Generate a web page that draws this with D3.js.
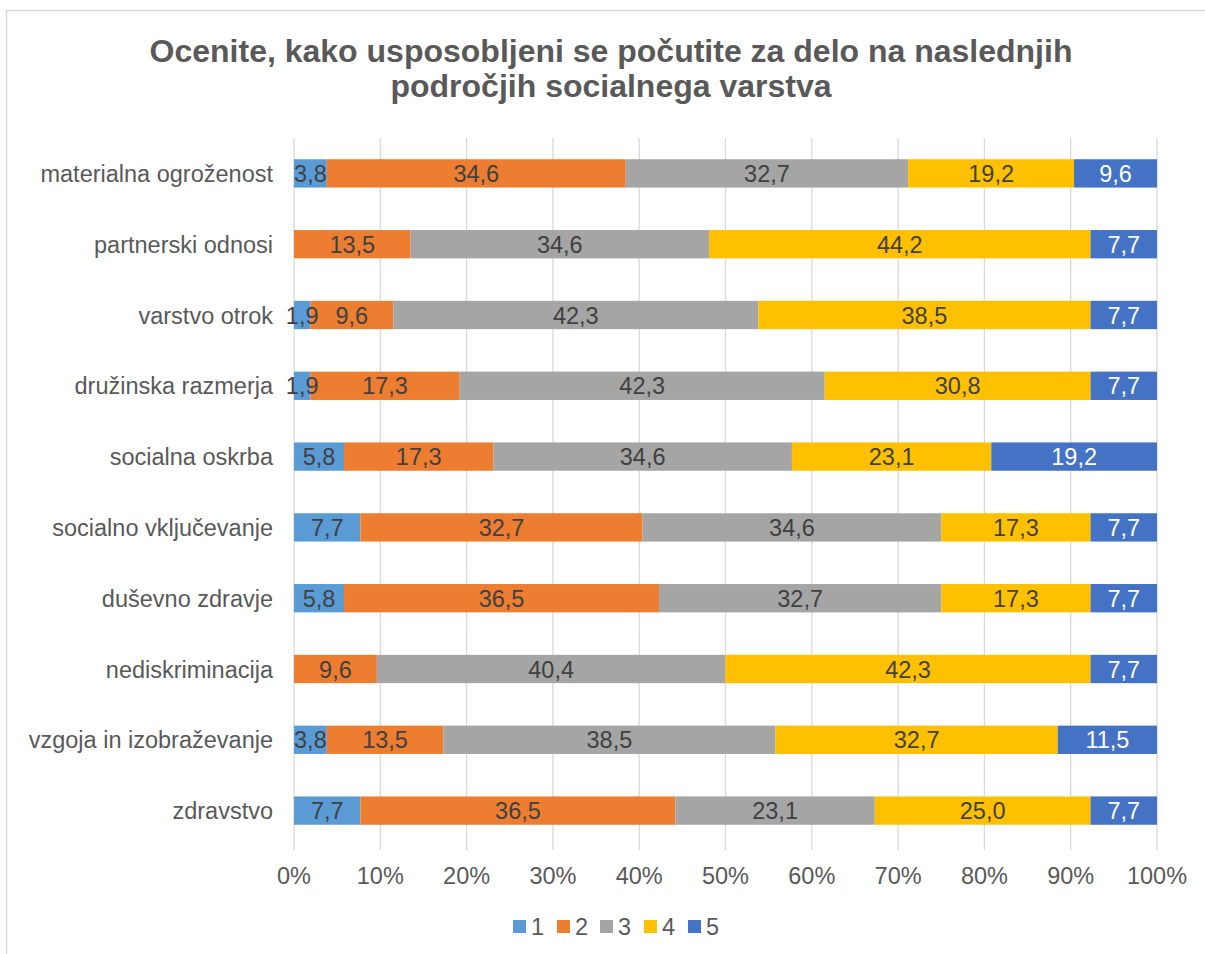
<!DOCTYPE html>
<html lang="sl">
<head>
<meta charset="UTF-8">
<title>Chart</title>
<style>
  body { margin: 0; background: #fff; }
  svg { display: block; font-family: "Liberation Sans", Arial, sans-serif; }
</style>
</head>
<body>
<svg width="1205" height="954"></svg>
<script src="https://cdn.jsdelivr.net/npm/d3@7"></script>
<script>
var categories = ["materialna ogroženost", "partnerski odnosi", "varstvo otrok", "družinska razmerja",
  "socialna oskrba", "socialno vključevanje", "duševno zdravje", "nediskriminacija",
  "vzgoja in izobraževanje", "zdravstvo"];
var seriesNames = ["1", "2", "3", "4", "5"];
var s1 = [3.8, 0, 1.9, 1.9, 5.8, 7.7, 5.8, 0, 3.8, 7.7];
var s2 = [34.6, 13.5, 9.6, 17.3, 17.3, 32.7, 36.5, 9.6, 13.5, 36.5];
var s3 = [32.7, 34.6, 42.3, 42.3, 34.6, 34.6, 32.7, 40.4, 38.5, 23.1];
var s4 = [19.2, 44.2, 38.5, 30.8, 23.1, 17.3, 17.3, 42.3, 32.7, 25.0];
var s5 = [9.6, 7.7, 7.7, 7.7, 19.2, 7.7, 7.7, 7.7, 11.5, 7.7];
var ticks = [0, 0.1, 0.2, 0.3, 0.4, 0.5, 0.6, 0.7, 0.8, 0.9, 1];
var colors = ["#5B9BD5", "#ED7D31", "#A5A5A5", "#FFC000", "#4472C4"];
var labelColors = ["#404040", "#404040", "#404040", "#404040", "#ffffff"];

var svg = d3.select("svg");

// okvir
svg.append("rect").attr("x", 6.5).attr("y", 10.5).attr("width", 1210).attr("height", 960)
  .attr("fill", "none").attr("stroke", "#d9d9d9").attr("stroke-width", 1.5);

// naslov
var title = svg.append("text").attr("text-anchor", "middle").attr("fill", "#595959")
  .attr("font-size", 32).attr("font-weight", "bold");
title.append("tspan").attr("x", 611).attr("y", 62).text("Ocenite, kako usposobljeni se počutite za delo na naslednjih");
title.append("tspan").attr("x", 611).attr("y", 97).text("področjih socialnega varstva");

var plotLeft = 294, plotRight = 1157, plotTop = 138, plotBottom = 846;
var x = d3.scaleLinear().domain([0, 1]).range([plotLeft, plotRight]);
var y = d3.scaleBand().domain(categories).range([plotTop, plotBottom]).paddingInner(0.6).paddingOuter(0.3);

var allSeries = [s1, s2, s3, s4, s5];
var rows = categories.map(function (c, i) {
  var r = { cat: c };
  seriesNames.forEach(function (k, j) { r[k] = allSeries[j][i]; });
  return r;
});
var layers = d3.stack().keys(seriesNames).offset(d3.stackOffsetExpand)(rows);

// mreža
svg.append("g").selectAll("line").data(ticks).enter().append("line")
  .attr("x1", function (d) { return x(d); }).attr("x2", function (d) { return x(d); })
  .attr("y1", plotTop).attr("y2", plotBottom + 4)
  .attr("stroke", "#d9d9d9").attr("stroke-width", 1.3);

// stolpci
var layerG = svg.append("g").selectAll("g").data(layers).enter().append("g")
  .attr("fill", function (d, i) { return colors[i]; });
layerG.selectAll("rect").data(function (d) { return d; }).enter().append("rect")
  .attr("x", function (d) { return x(d[0]); })
  .attr("width", function (d) { return x(d[1]) - x(d[0]); })
  .attr("y", function (d) { return y(d.data.cat); })
  .attr("height", y.bandwidth());

// oznake podatkov
layers.forEach(function (layer, i) {
  svg.append("g").selectAll("text").data(layer.filter(function (d) { return d.data[layer.key] > 0; }))
    .enter().append("text")
    .attr("x", function (d) { return (x(d[0]) + x(d[1])) / 2; })
    .attr("y", function (d) { return y(d.data.cat) + y.bandwidth() / 2 + 8.5; })
    .attr("text-anchor", "middle").attr("font-size", 23.5).attr("fill", labelColors[i])
    .text(function (d) { return d3.format(".1f")(d.data[layer.key]).replace(".", ","); });
});

// kategorije
svg.append("g").selectAll("text").data(categories).enter().append("text")
  .attr("x", plotLeft - 21).attr("y", function (d) { return y(d) + y.bandwidth() / 2 + 8.5; })
  .attr("text-anchor", "end").attr("font-size", 23.5).attr("fill", "#595959")
  .text(function (d) { return d; });

// os x
svg.append("g").selectAll("text").data(ticks).enter().append("text")
  .attr("x", function (d) { return x(d); }).attr("y", 884)
  .attr("text-anchor", "middle").attr("font-size", 23.5).attr("fill", "#595959")
  .text(function (d) { return d3.format(".0%")(d); });

// legenda
var legendX = [513, 557, 600, 644, 688];
var lg = svg.append("g").selectAll("g").data(seriesNames).enter().append("g")
  .attr("transform", function (d, i) { return "translate(" + legendX[i] + ",920)"; });
lg.append("rect").attr("width", 13).attr("height", 13)
  .attr("fill", function (d, i) { return colors[i]; });
lg.append("text").attr("x", 18).attr("y", 15).attr("font-size", 23.5).attr("fill", "#595959")
  .text(function (d) { return d; });
</script>
</body>
</html>
